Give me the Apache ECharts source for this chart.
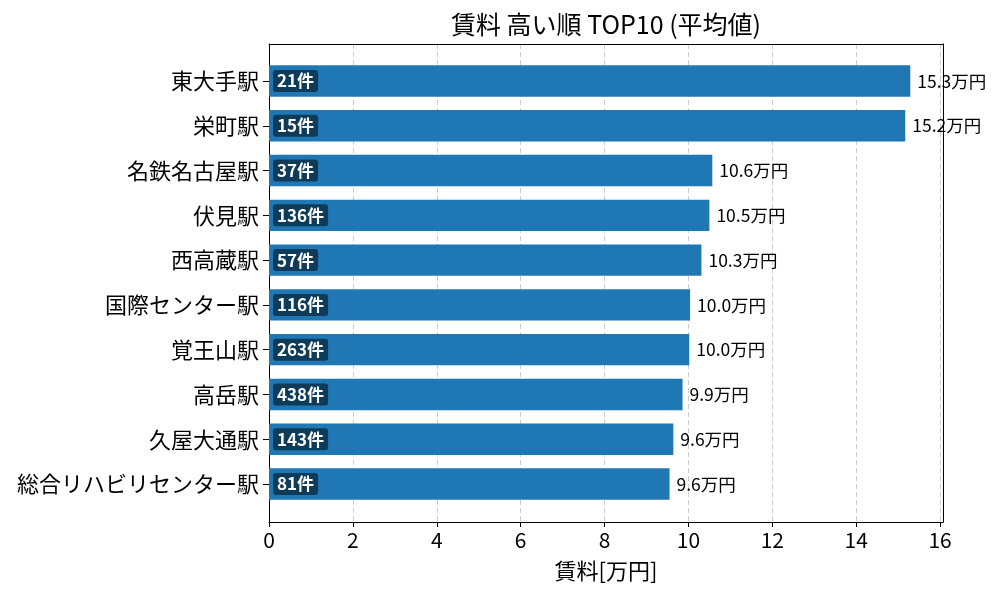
<!DOCTYPE html>
<html>
<head>
  <meta charset="utf-8">
  <title>賃料 高い順 TOP10</title>
  <script src="https://cdn.jsdelivr.net/npm/echarts@6/dist/echarts.min.js"></script>
  <style>
    html, body { margin: 0; padding: 0; background: #ffffff; }
    #chart { width: 1000px; height: 600px; }
  </style>
</head>
<body>
<div id="chart"></div>
<script>
  // 駅名（上から順）
  var stations = ['東大手駅', '栄町駅', '名鉄名古屋駅', '伏見駅', '西高蔵駅',
    '国際センター駅', '覚王山駅', '高岳駅', '久屋大通駅', '総合リハビリセンター駅'];
  // 平均賃料 [万円]
  var rents = [15.29, 15.17, 10.57, 10.50, 10.31, 10.04, 10.02, 9.86, 9.64, 9.55];
  // 件数
  var counts = [21, 15, 37, 136, 57, 116, 263, 438, 143, 81];
  var xTicks = [0, 2, 4, 6, 8, 10, 12, 14, 16];

  var font = '"Noto Sans CJK JP", "Noto Sans", sans-serif';
  var barColor = '#1f77b4';
  var xMax = 16.07;

  var chart = echarts.init(document.getElementById('chart'), null, { renderer: 'canvas' });

  var frameLine = { show: true, onZero: false, lineStyle: { color: '#000', width: 1 } };

  chart.setOption({
    animation: false,
    textStyle: { fontFamily: font },
    title: {
      text: '賃料 高い順 TOP10 (平均値)',
      left: 601,
      top: 7,
      textAlign: 'center',
      textStyle: { fontSize: 25, fontWeight: 'normal', color: '#000', fontFamily: font }
    },
    grid: [
      // bars
      { left: 269, right: 57, top: 58.6, bottom: 93.6, containLabel: false },
      // frame + x axis
      { left: 269, right: 57, top: 44, bottom: 78, containLabel: false }
    ],
    xAxis: [
      { gridIndex: 0, type: 'value', min: 0, max: xMax, show: false },
      {
        gridIndex: 1, type: 'value', min: 0, max: xMax, position: 'bottom',
        name: '賃料[万円]', nameLocation: 'middle', nameGap: 38,
        nameTextStyle: { fontSize: 22, color: '#000', fontFamily: font },
        axisLine: frameLine,
        axisTick: { show: true, length: 5, lineStyle: { color: '#000' }, customValues: xTicks },
        axisLabel: { fontSize: 21, color: '#000', margin: 8, fontFamily: font, customValues: xTicks },
        splitLine: { show: true, lineStyle: { type: [5, 3], color: '#cccccc', width: 1 } }
      },
      {
        gridIndex: 1, type: 'value', min: 0, max: xMax, position: 'top',
        axisLine: frameLine, axisTick: { show: false }, axisLabel: { show: false }, splitLine: { show: false }
      }
    ],
    yAxis: [
      {
        gridIndex: 0, type: 'category', data: stations, inverse: true,
        axisLine: { show: false },
        axisTick: { show: true, alignWithLabel: true, length: 6, lineStyle: { color: '#000' } },
        axisLabel: { fontSize: 22, color: '#000', margin: 10, fontFamily: font },
        splitLine: { show: false }
      },
      {
        gridIndex: 1, type: 'value', position: 'left',
        axisLine: frameLine, axisTick: { show: false }, axisLabel: { show: false }, splitLine: { show: false }
      },
      {
        gridIndex: 1, type: 'value', position: 'right',
        axisLine: frameLine, axisTick: { show: false }, axisLabel: { show: false }, splitLine: { show: false }
      }
    ],
    series: [
      {
        type: 'bar',
        xAxisIndex: 0, yAxisIndex: 0,
        data: rents,
        barWidth: 31.4,
        itemStyle: { color: barColor },
        label: {
          show: true,
          position: 'insideLeft',
          distance: 4,
          formatter: function (p) { return counts[p.dataIndex] + '件'; },
          color: '#ffffff',
          fontSize: 17,
          fontWeight: 'bold',
          fontFamily: font,
          backgroundColor: 'rgba(0,0,0,0.5)',
          borderRadius: 3,
          padding: [3, 4, 2, 4]
        },
        z: 3
      },
      {
        type: 'bar',
        xAxisIndex: 0, yAxisIndex: 0,
        data: rents,
        barWidth: 31.4,
        barGap: '-100%',
        itemStyle: { color: 'rgba(0,0,0,0)' },
        label: {
          show: true,
          position: 'right',
          distance: 7,
          formatter: function (p) { return p.value.toFixed(1) + '万円'; },
          color: '#000',
          fontSize: 17.5,
          fontFamily: font
        },
        z: 4
      }
    ]
  });
</script>
</body>
</html>
